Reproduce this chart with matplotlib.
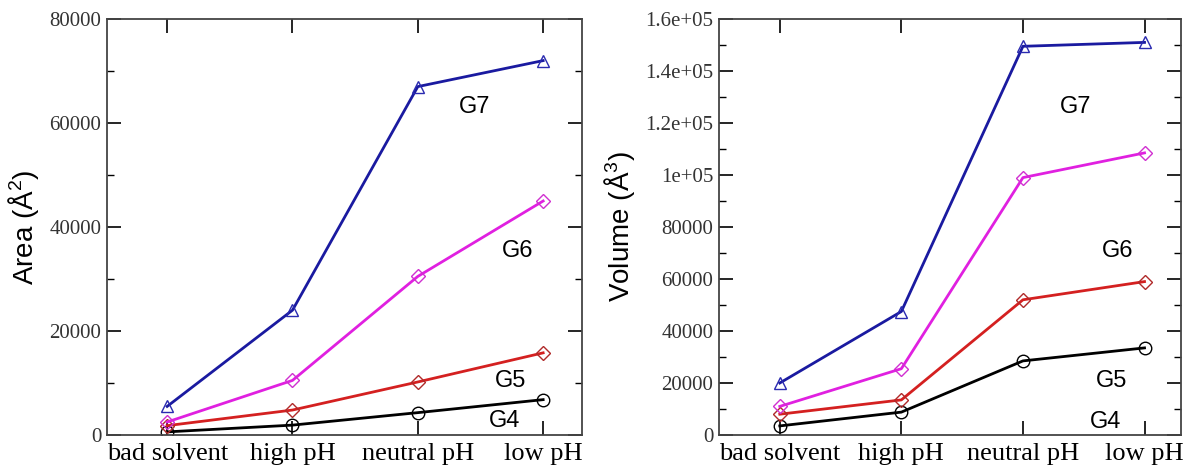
import matplotlib
matplotlib.use('Agg')
import matplotlib.pyplot as plt
from matplotlib.ticker import MultipleLocator, FuncFormatter

plt.rcParams['mathtext.fontset'] = 'custom'
plt.rcParams['mathtext.rm'] = 'Liberation Sans'
plt.rcParams['mathtext.it'] = 'Liberation Sans:italic'

conditions = ['bad solvent', 'high pH', 'neutral pH', 'low pH']
generations = ['G4', 'G5', 'G6', 'G7']

area_g4 = [600, 1900, 4300, 6800]
area_g5 = [1800, 4800, 10200, 15800]
area_g6 = [2500, 10500, 30500, 45000]
area_g7 = [5500, 24000, 67000, 72000]

volume_g4 = [3500, 8800, 28500, 33500]
volume_g5 = [8000, 13500, 52000, 59000]
volume_g6 = [11000, 25500, 99000, 108500]
volume_g7 = [20000, 47500, 149500, 151000]

area_label_pos = [(2.69, 2600), (2.74, 10300), (2.80, 35300), (2.45, 63100)]
volume_label_pos = [(2.68, 4900), (2.73, 20600), (2.78, 70700), (2.43, 126200)]

colors = ['black', '#d42020', '#e020e0', '#1a1aa0']
edge_colors = ['black', '#b02a2a', '#d030d0', '#2a2ab0']
markers = ['o', 'D', 'D', '^']
msizes = [9, 7.5, 7.5, 9]


def draw(ax, series, label_pos, ylim, major, ylabel, fmt):
    x = range(len(conditions))
    for vals, c, ec, m, ms in zip(series, colors, edge_colors, markers, msizes):
        ax.plot(x, vals, color=c, lw=2.0, marker=m, ms=ms,
                mfc='none', mec=ec, mew=1.0)
    for name, (lx, ly) in zip(generations, label_pos):
        ax.text(lx, ly, name, fontsize=17, family='Liberation Sans',
                ha='center', va='center')
    ax.set_xlim(-0.48, 3.31)
    ax.set_ylim(*ylim)
    ax.set_xticks(list(x))
    ax.set_xticklabels(conditions, family='Liberation Serif', fontsize=19)
    ax.yaxis.set_major_locator(MultipleLocator(major))
    ax.yaxis.set_minor_locator(MultipleLocator(major / 2))
    ax.yaxis.set_major_formatter(FuncFormatter(fmt))
    for lab in ax.get_yticklabels():
        lab.set_family('Liberation Serif')
        lab.set_fontsize(15)
        lab.set_color('#333333')
    ax.tick_params(which='both', direction='in', top=True, right=True)
    ax.tick_params(which='major', length=10, width=1.2)
    ax.tick_params(which='minor', length=5, width=1.0)
    ax.tick_params(axis='x', pad=6)
    ax.tick_params(axis='y', pad=4)
    for s in ax.spines.values():
        s.set_linewidth(1.3)
        s.set_color('#444444')
    ax.set_ylabel(ylabel, family='Liberation Sans', fontsize=20, labelpad=6)


def plain(v, pos):
    return '%d' % v


def grace(v, pos):
    # xmgrace style: large values in exponent form
    if v >= 100000:
        return '1e+05' if v == 100000 else '%.1fe+05' % (v / 100000)
    return '%d' % v


fig = plt.figure(figsize=(11.89, 4.67), dpi=100)
ax1 = fig.add_axes([107 / 1189, 1 - 435 / 467, 475 / 1189, 416 / 467])
ax2 = fig.add_axes([719 / 1189, 1 - 435 / 467, 462 / 1189, 416 / 467])

draw(ax1, [area_g4, area_g5, area_g6, area_g7], area_label_pos,
     (0, 80000), 20000, r'Area ($\mathrm{\AA}^2$)', plain)
draw(ax2, [volume_g4, volume_g5, volume_g6, volume_g7], volume_label_pos,
     (0, 160000), 20000, r'Volume ($\mathrm{\AA}^3$)', grace)
ax2.set_xlim(-0.5, 3.3)

fig.savefig('out.png', dpi=100)
